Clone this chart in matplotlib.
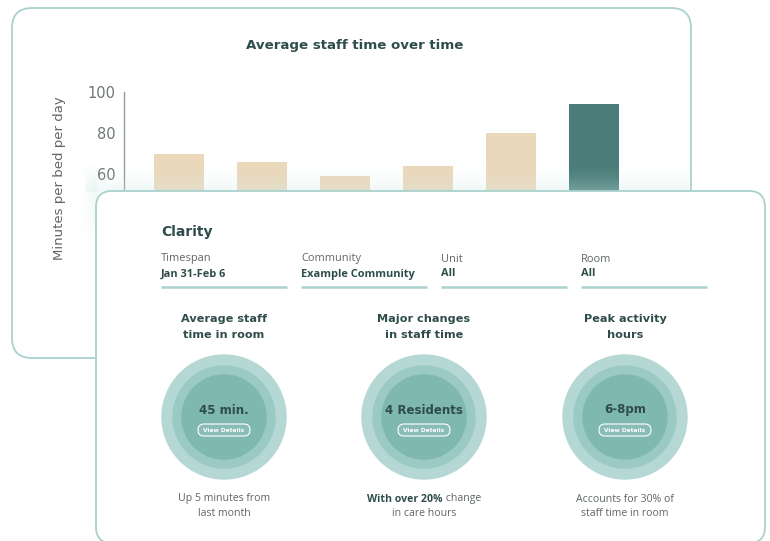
import matplotlib
matplotlib.use("Agg")
import matplotlib.pyplot as plt
import numpy as np
from matplotlib.patches import FancyBboxPatch, Circle

# ---------------- data ----------------
periods = ["W1", "W2", "W3", "W4", "W5", "W6"]
minutes = [70, 66, 59, 64, 80, 94]
highlight = [False, False, False, False, False, True]
y_ticks = [60, 80, 100]
chart_title = "Average staff time over time"
y_label = "Minutes per bed per day"

filter_labels = ["Timespan", "Community", "Unit", "Room"]
filter_values = ["Jan 31-Feb 6", "Example Community", "All", "All"]

metric_titles = [["Average staff", "time in room"],
                 ["Major changes", "in staff time"],
                 ["Peak activity", "hours"]]
metric_values = ["45 min.", "4 Residents", "6-8pm"]
metric_notes = [[[("Up 5 minutes from", "normal")], [("last month", "normal")]],
                [[("With over 20%", "bold"), (" change", "normal")], [("in care hours", "normal")]],
                [[("Accounts for 30% of", "normal")], [("staff time in room", "normal")]]]

# ---------------- style ----------------
W, H, DPI = 770, 541, 100
BORDER = "#a9d1cd"
DARK = "#2e4d4a"
GREY = "#5f6665"
BEIGE = "#ead8bb"
TEAL = "#4a7d79"
RING = ["#b5d8d4", "#9bcac5", "#7fb7b1"]

fig = plt.figure(figsize=(W / DPI, H / DPI), dpi=DPI)
fig.patch.set_facecolor("white")


def px_axes(z):
    ax = fig.add_axes([0, 0, 1, 1], zorder=z)
    ax.set_xlim(0, W)
    ax.set_ylim(H, 0)
    ax.axis("off")
    ax.patch.set_alpha(0)
    return ax


# ---- back card ----
ax_back = px_axes(0)
ax_back.add_patch(FancyBboxPatch((12, 8), 679, 350,
                                 boxstyle="round,pad=0,rounding_size=20",
                                 fc="white", ec=BORDER, lw=1.3))
ax_back.text(355, 45, chart_title, ha="center", va="center",
             fontsize=9.6, fontweight="bold", color=DARK, family="DejaVu Sans")
ax_back.text(60, 178, y_label, ha="center", va="center", rotation=90,
             fontsize=9.5, color=GREY, family="DejaVu Sans")

# ---- bar chart ----
y100, ppu = 91.7, 2.065
y0 = y100 + 100 * ppu
x_first, step = 179.0, 83.0
xl, xr = -0.663, 5.7
left_px = x_first + xl * step
right_px = x_first + xr * step
ax = fig.add_axes([left_px / W, 1 - y0 / H, (right_px - left_px) / W, (y0 - y100) / H], zorder=1)
ax.patch.set_alpha(0)
x = np.arange(len(periods))
ax.bar(x, minutes, width=0.61,
       color=[TEAL if h else BEIGE for h in highlight])
ax.set_xlim(xl, xr)
ax.set_ylim(0, 100)
ax.set_yticks(y_ticks)
ax.set_xticks([])
ax.tick_params(axis="y", length=0, pad=6, labelsize=10.5, labelcolor="#6e7776")
for s in ["top", "right", "bottom"]:
    ax.spines[s].set_visible(False)
ax.spines["left"].set_color("#8fa09e")
ax.spines["left"].set_linewidth(1.0)

# ---- front card ----
axf = px_axes(2)
# soft glow above / left of the front card
glow = (0.82, 0.925, 0.915)
grad = np.zeros((40, 2, 4))
grad[..., :3] = glow
grad[..., 3] = np.linspace(0, 0.55, 40)[:, None] ** 1.8
axf.imshow(grad, extent=(86, 689, 192, 162), aspect="auto", zorder=0, interpolation="bilinear")
gradl = np.zeros((40, 30, 4))
gradl[..., :3] = glow
hx = np.linspace(0, 1, 30)[None, :] ** 2
vy = np.sin(np.linspace(0, np.pi, 40))[:, None]
gradl[..., 3] = 0.35 * hx * vy
axf.imshow(gradl, extent=(74, 97, 240, 165), aspect="auto", zorder=0, interpolation="bilinear")
axf.set_xlim(0, W)
axf.set_ylim(H, 0)

axf.add_patch(FancyBboxPatch((96, 191), 669, 352,
                             boxstyle="round,pad=0,rounding_size=16",
                             fc="white", ec=BORDER, lw=1.3, zorder=1))
axf.text(161, 232, "Clarity", ha="left", va="center", fontsize=10,
         fontweight="bold", color=DARK, family="DejaVu Sans", zorder=3)

fx = [161, 301, 441, 581]
for xi, lab, val in zip(fx, filter_labels, filter_values):
    axf.text(xi, 259, lab, ha="left", va="center", fontsize=7.9,
             color=GREY, family="Open Sans", zorder=3)
    axf.text(xi, 274, val, ha="left", va="center", fontsize=7.9,
             fontweight="bold", color=DARK, family="Open Sans", zorder=3)
    axf.plot([xi, xi + 126], [287, 287], color=BORDER, lw=1.8, zorder=3,
             solid_capstyle="butt")

cx = [224, 424, 625]
cy = 417
radii = [62.7, 51.7, 42.7]
fig.canvas.draw()
renderer = fig.canvas.get_renderer()

for i, c in enumerate(cx):
    t1, t2 = metric_titles[i]
    axf.text(c, 319, t1, ha="center", va="center", fontsize=8.1,
             fontweight="bold", color=DARK, family="DejaVu Sans", zorder=3)
    axf.text(c, 335, t2, ha="center", va="center", fontsize=8.1,
             fontweight="bold", color=DARK, family="DejaVu Sans", zorder=3)
    for r, col in zip(radii, RING):
        axf.add_patch(Circle((c, cy), r, fc=col, ec="none", zorder=2))
    axf.text(c, 410, metric_values[i], ha="center", va="center", fontsize=8.5,
             fontweight="bold", color=DARK, family="DejaVu Sans", zorder=3)
    axf.add_patch(FancyBboxPatch((c - 26, 424), 52, 12,
                                 boxstyle="round,pad=0,rounding_size=6",
                                 fc=(1, 1, 1, 0.08), ec="white", lw=0.8, zorder=3))
    axf.text(c, 430, "View Details", ha="center", va="center", fontsize=4.2,
             color="white", family="DejaVu Sans", fontweight="bold", zorder=4)
    for line, yy in zip(metric_notes[i], [499, 514]):
        pieces = []
        for txt, wt in line:
            t = axf.text(0, yy, txt, ha="left", va="center", fontsize=7.6,
                         fontweight=wt, color=DARK if wt == "bold" else GREY,
                         family="Open Sans", zorder=3)
            pieces.append(t)
        widths = [p.get_window_extent(renderer).width for p in pieces]
        total = sum(widths)
        xx = c - total / 2
        for p, w in zip(pieces, widths):
            p.set_x(xx)
            xx += w

fig.savefig("out.png", dpi=DPI, facecolor="white")
